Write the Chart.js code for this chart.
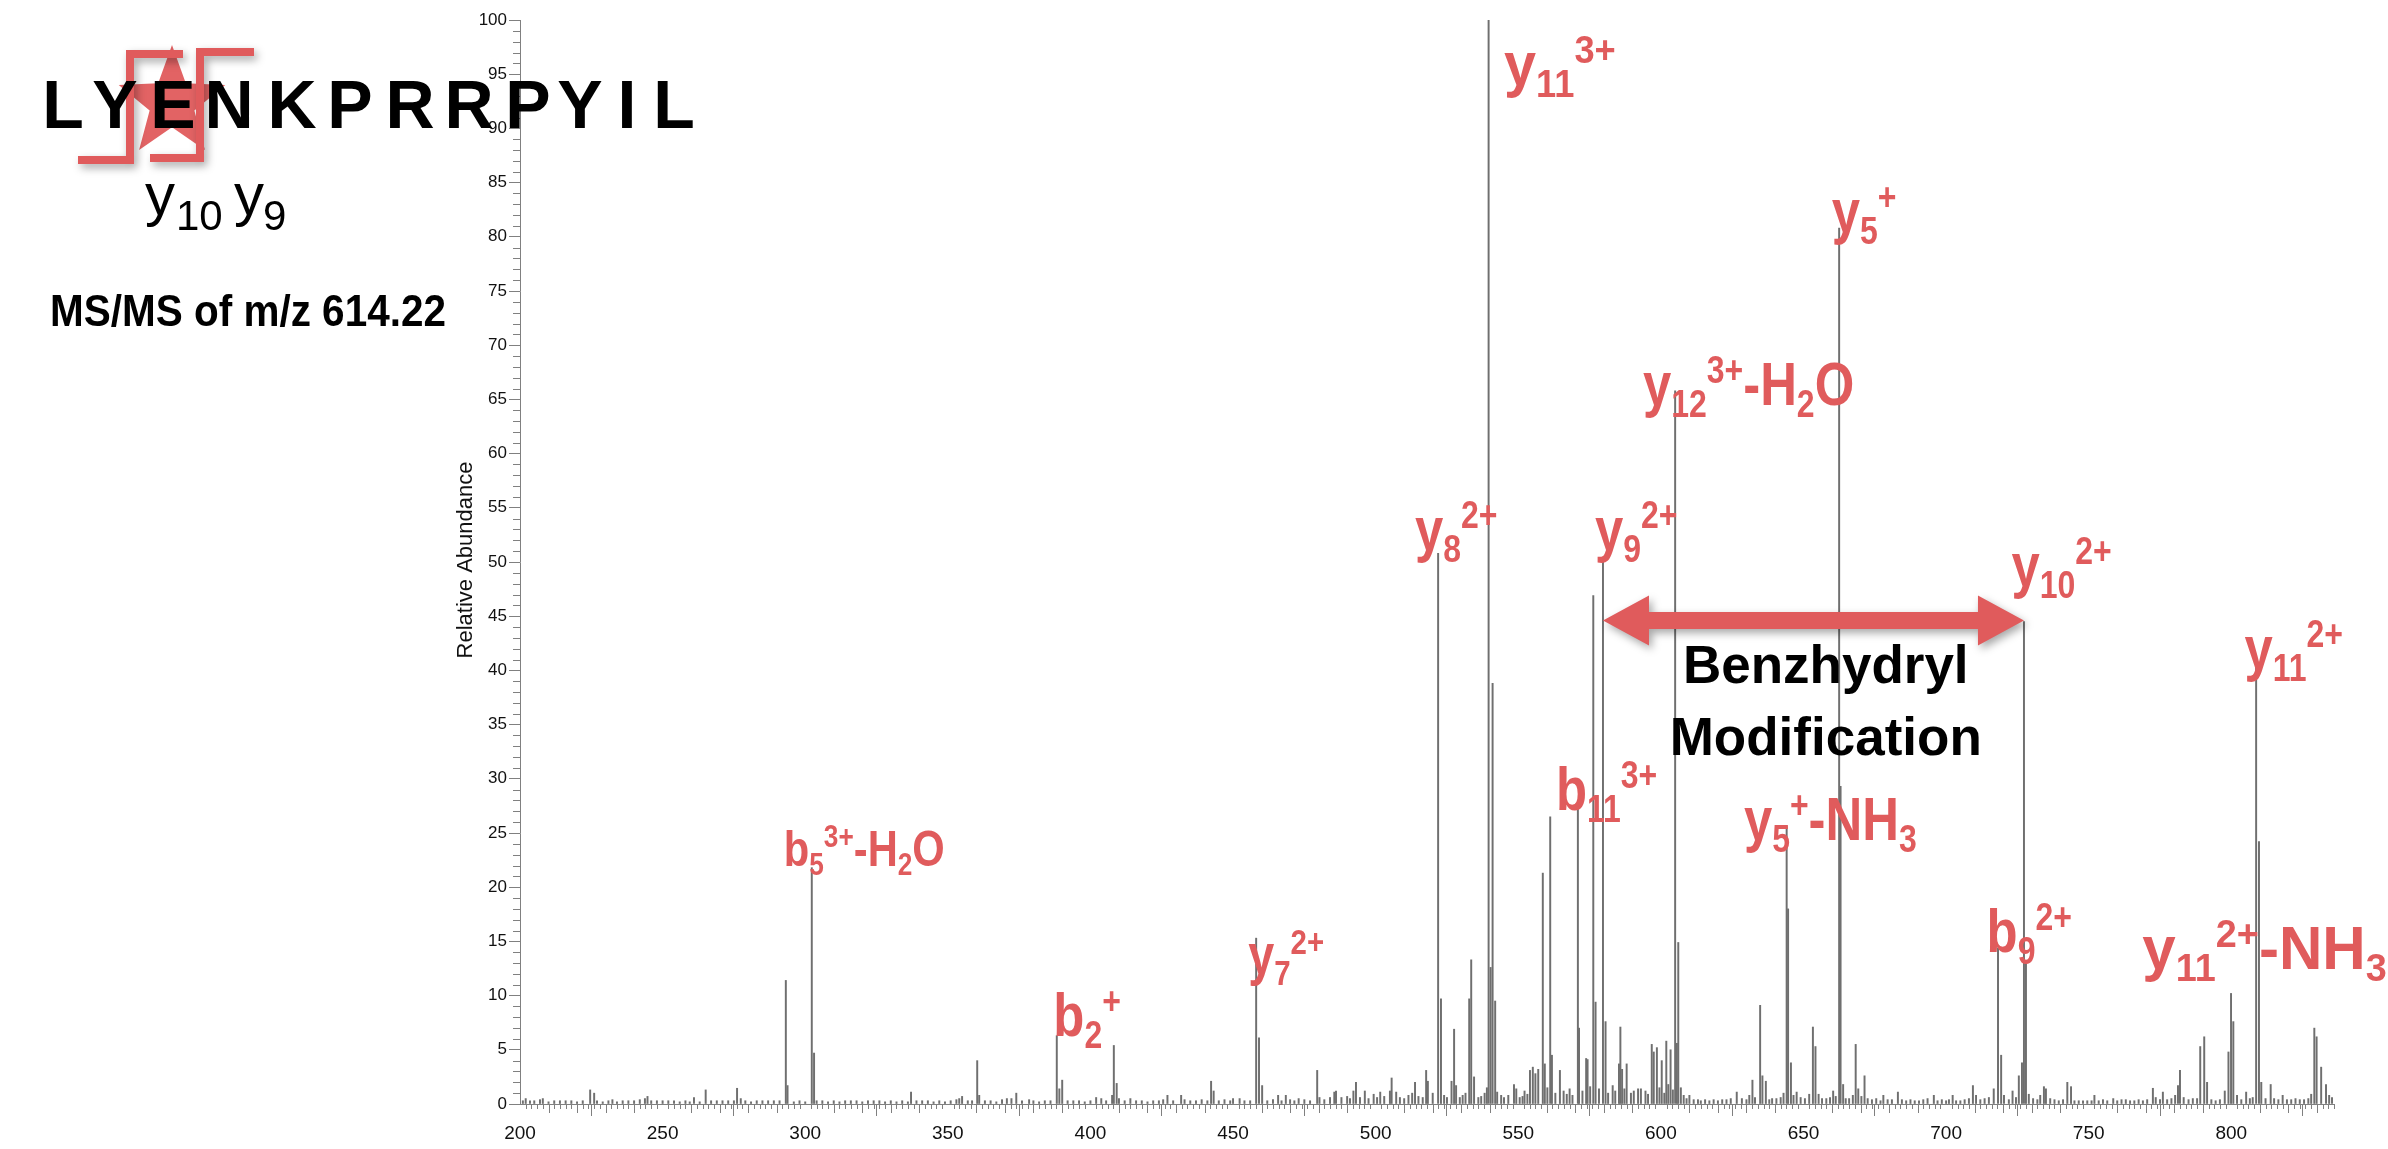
<!DOCTYPE html>
<html>
<head>
<meta charset="utf-8">
<script src="https://cdn.jsdelivr.net/npm/chart.js@4.4.1/dist/chart.umd.min.js"></script>
<style>
  html, body { margin: 0; padding: 0; background: #fff; }
  #wrap { width: 2388px; height: 1149px; position: relative; }
</style>
</head>
<body>
<div id="wrap"><canvas id="chart" width="2388" height="1149"></canvas></div>
<script>
// peak list (m/z, relative abundance)
const mzValues = [
  201, 202, 203.5, 205, 207, 208, 210, 212, 214, 216, 218, 220, 222, 224.6, 226, 227, 229, 231, 232.4, 234,
  236, 238, 240, 242, 243.8, 244.7, 246, 248, 250, 252, 254, 256, 258, 259.5, 261, 263, 265.1, 267, 269, 271,
  273, 275, 276.1, 277.4, 279, 281, 283, 285, 287, 289, 291, 293.2, 293.8, 296, 298, 300, 302.3, 303.1, 304, 306,
  308, 310, 312, 314, 316, 318, 320, 322, 324, 326, 328, 330, 332, 334, 336, 337.1, 339, 341, 343, 345,
  347, 349, 351, 353, 354, 355, 357, 358.5, 360.3, 361, 363, 365, 367, 369, 370.7, 372.3, 374, 376, 378.5, 380,
  382, 384, 386, 388.2, 389.1, 390.1, 392, 394, 396, 398, 400, 402, 403.8, 405.5, 407.6, 408.2, 409.2, 410, 412, 414,
  416, 418, 420, 422, 424, 425.5, 427, 429, 431.8, 433, 435, 437, 439, 441, 442.3, 443.2, 445, 447, 449, 450,
  452.3, 454, 456, 458.1, 459.1, 460.2, 462, 464, 465.8, 467, 468.5, 470, 471.5, 473, 475, 477, 479.5, 480.3, 482, 484,
  485.5, 486.1, 488, 490, 491, 492.2, 493.1, 494.5, 496.2, 497.5, 499.3, 500.5, 501.6, 503, 505, 505.6, 507.2, 508.5, 510, 511.5,
  512.8, 513.8, 515, 516.5, 517.7, 518.3, 520, 521.9, 522.9, 524, 525, 526.6, 527.5, 528.2, 529.5, 530.5, 531.5, 532.8, 533.5, 534.5,
  536, 537, 538.2, 539, 539.6, 540.3, 541, 541.9, 542.6, 544, 545, 546.5, 548.5, 549.3, 550.5, 551.5, 552.2, 553.2, 554.1, 555.1,
  556, 557, 558.6, 559.3, 560.2, 561.2, 561.8, 563, 564.6, 565.9, 567, 568, 569, 570.9, 571.3, 572.5, 573.8, 574.3, 575.2, 576.3,
  577.1, 578.3, 579.7, 580.6, 581.5, 583.1, 584, 585.3, 585.8, 586.4, 587.2, 588, 589.5, 590.5, 592, 593, 594.6, 595.5, 596.8, 597.5,
  598.6, 599.5, 600.3, 601.2, 601.9, 602.6, 603.4, 604.2, 605, 605.6, 606.1, 607, 608, 609, 610, 611.5, 613, 614, 615.5, 617,
  618.5, 620, 621.5, 623, 624.5, 626.6, 628.4, 630, 631, 632.1, 633, 634.8, 635.6, 636.8, 638, 639, 640.5, 642, 643, 644.1,
  644.6, 645.6, 646.5, 647.6, 649, 650.5, 652, 653.3, 654.2, 655.3, 656.5, 658, 659.3, 660.4, 661.3, 662.5, 663, 663.9, 664.8, 666,
  667.3, 668.3, 669.2, 670.3, 671.4, 672.5, 674, 675.5, 677, 678, 679.5, 681, 683.1, 684.5, 686, 687.5, 689, 690.5, 692, 693.5,
  695.7, 697, 698.5, 700, 701, 702.3, 703.5, 705, 706.5, 708, 709.4, 710.5, 712, 713.5, 715, 716.7, 718.2, 719.3, 720.3, 722,
  723.3, 724.5, 725.5, 726.6, 727.3, 728, 729, 730.5, 732, 733, 734.3, 735, 736.5, 738, 739.5, 741, 742.5, 743.8, 745, 746.5,
  748, 749.5, 751, 752, 753.5, 755, 756.5, 758.6, 760, 761.5, 763, 764.5, 766, 767.5, 769, 770.5, 772.5, 773.5, 775, 776,
  777.5, 779, 780.3, 781.3, 782, 783.3, 785, 786.5, 788, 789.1, 790.5, 791.5, 793, 794.5, 796, 797.7, 799, 799.9, 800.7, 802,
  803.5, 805.2, 806.5, 807.5, 808.7, 809.7, 810.5, 812, 813.8, 815, 816.5, 818, 819.5, 821, 822.5, 824, 825.5, 827, 828, 829.1,
  829.9, 831.5, 833.2, 834.3, 835.3
];
const abundance = [
  0.3, 0.5, 0.3, 0.3, 0.4, 0.5, 0.2, 0.3, 0.3, 0.3, 0.3, 0.2, 0.3, 1.3, 1.0, 0.3, 0.2, 0.3, 0.4, 0.2,
  0.3, 0.3, 0.3, 0.4, 0.5, 0.7, 0.3, 0.3, 0.3, 0.3, 0.3, 0.2, 0.3, 0.2, 0.6, 0.2, 1.3, 0.3, 0.3, 0.3,
  0.3, 0.3, 1.45, 0.5, 0.3, 0.2, 0.3, 0.3, 0.3, 0.3, 0.3, 11.4, 1.7, 0.2, 0.3, 0.2, 21.8, 4.7, 0.3, 0.3,
  0.2, 0.3, 0.2, 0.3, 0.3, 0.3, 0.2, 0.3, 0.3, 0.3, 0.2, 0.3, 0.2, 0.3, 0.2, 1.1, 0.3, 0.3, 0.3, 0.2,
  0.3, 0.2, 0.3, 0.4, 0.5, 0.7, 0.3, 0.3, 4.0, 0.8, 0.3, 0.3, 0.2, 0.4, 0.5, 0.5, 1.0, 0.3, 0.4, 0.3,
  0.2, 0.3, 0.3, 6.3, 1.4, 2.2, 0.3, 0.3, 0.3, 0.2, 0.3, 0.6, 0.5, 0.3, 0.8, 5.4, 1.9, 0.5, 0.3, 0.5,
  0.3, 0.3, 0.2, 0.3, 0.3, 0.4, 0.8, 0.3, 0.8, 0.4, 0.3, 0.3, 0.4, 0.3, 2.1, 1.2, 0.3, 0.4, 0.3, 0.5,
  0.5, 0.3, 0.3, 15.3, 6.1, 1.7, 0.3, 0.4, 0.8, 0.3, 0.8, 0.4, 0.3, 0.5, 0.4, 0.3, 3.1, 0.6, 0.4, 0.6,
  1.1, 1.2, 0.6, 0.7, 0.5, 1.2, 2.0, 0.6, 1.2, 0.5, 0.9, 0.6, 1.1, 0.7, 1.2, 2.4, 1.1, 0.6, 0.5, 0.8,
  1.0, 2.0, 0.7, 0.6, 3.1, 2.1, 1.0, 50.8, 9.7, 0.8, 0.6, 2.1, 6.9, 1.7, 0.6, 0.8, 1.0, 9.7, 13.3, 2.5,
  0.6, 0.7, 1.0, 1.5, 100, 12.6, 38.8, 9.5, 1.1, 0.8, 0.6, 0.8, 1.8, 1.4, 0.6, 0.7, 1.2, 0.9, 3.1, 3.4,
  2.8, 3.2, 21.3, 3.7, 1.5, 26.5, 4.5, 1.0, 3.1, 1.2, 0.9, 1.4, 0.8, 27.8, 7.0, 1.2, 4.2, 4.1, 1.6, 46.9,
  9.4, 1.4, 50.1, 7.6, 1.0, 1.7, 1.2, 3.7, 7.1, 3.2, 1.4, 3.7, 1.0, 1.2, 1.4, 1.4, 1.2, 0.9, 5.5, 4.8,
  5.2, 1.5, 4.0, 1.0, 5.8, 1.8, 5.0, 1.3, 65.8, 5.6, 14.9, 1.5, 0.8, 0.5, 0.8, 0.4, 0.4, 0.3, 0.4, 0.3,
  0.4, 0.3, 0.4, 0.4, 0.5, 1.1, 0.5, 0.4, 0.8, 2.2, 0.6, 9.1, 2.6, 2.1, 0.4, 0.5, 0.5, 0.6, 1.0, 25.6,
  18.0, 3.8, 0.8, 1.1, 0.6, 0.5, 0.9, 7.1, 5.3, 0.9, 0.5, 0.5, 0.6, 1.2, 0.7, 80.8, 29.3, 1.8, 0.5, 0.5,
  0.8, 5.5, 1.4, 0.7, 2.6, 0.5, 0.4, 0.5, 0.3, 0.8, 0.4, 0.4, 1.1, 0.4, 0.3, 0.4, 0.3, 0.3, 0.4, 0.5,
  0.8, 0.3, 0.4, 0.3, 0.4, 0.8, 0.3, 0.3, 0.4, 0.5, 1.7, 0.8, 0.4, 0.5, 0.6, 1.4, 14.4, 4.5, 0.8, 0.4,
  1.2, 0.6, 2.6, 3.8, 44.5, 13.0, 0.9, 0.5, 0.4, 0.8, 1.6, 1.4, 0.5, 0.4, 0.3, 0.4, 2.0, 1.6, 0.3, 0.3,
  0.3, 0.3, 0.3, 0.8, 0.3, 0.4, 0.3, 0.5, 0.3, 0.4, 0.4, 0.3, 0.3, 0.4, 0.3, 0.4, 1.45, 0.6, 0.4, 1.1,
  0.4, 0.5, 0.8, 1.7, 3.1, 0.6, 0.4, 0.5, 0.5, 5.3, 6.2, 2.0, 0.4, 0.3, 0.4, 1.2, 4.8, 10.2, 7.6, 0.8,
  0.4, 1.1, 0.5, 0.6, 40.5, 24.2, 2.0, 0.5, 1.8, 0.5, 0.4, 0.8, 0.4, 0.4, 0.5, 0.4, 0.4, 0.5, 0.9, 7.0,
  6.2, 3.4, 1.8, 0.8, 0.6
];

const xTickLabels = [200, 250, 300, 350, 400, 450, 500, 550, 600, 650, 700, 750, 800];
const yTickLabels = [0, 5, 10, 15, 20, 25, 30, 35, 40, 45, 50, 55, 60, 65, 70, 75, 80, 85, 90, 95, 100];

// ion annotations: text parts ("n" normal, "b" subscript, "p" superscript), anchored in data units
const ionParts = [
  [["b", "n"], ["5", "b"], ["3+", "p"], ["-H", "n"], ["2", "b"], ["O", "n"]],
  [["b", "n"], ["2", "b"], ["+", "p"]],
  [["y", "n"], ["7", "b"], ["2+", "p"]],
  [["y", "n"], ["8", "b"], ["2+", "p"]],
  [["y", "n"], ["11", "b"], ["3+", "p"]],
  [["y", "n"], ["9", "b"], ["2+", "p"]],
  [["b", "n"], ["11", "b"], ["3+", "p"]],
  [["y", "n"], ["12", "b"], ["3+", "p"], ["-H", "n"], ["2", "b"], ["O", "n"]],
  [["y", "n"], ["5", "b"], ["+", "p"]],
  [["y", "n"], ["5", "b"], ["+", "p"], ["-NH", "n"], ["3", "b"]],
  [["y", "n"], ["10", "b"], ["2+", "p"]],
  [["b", "n"], ["9", "b"], ["2+", "p"]],
  [["y", "n"], ["11", "b"], ["2+", "p"]],
  [["y", "n"], ["11", "b"], ["2+", "p"], ["-NH", "n"], ["3", "b"]]
];
const ionMz = [292.5, 387.0, 455.3, 513.8, 545.0, 576.9, 563.2, 593.7, 659.9, 629.1, 722.9, 714.2, 804.6, 768.8];
const ionLevel = [22.0, 6.3, 12.0, 51.1, 94.0, 51.1, 27.1, 64.5, 80.4, 24.4, 47.8, 14.0, 40.1, 12.5];
// per-label text size factor and horizontal squeeze (style only)
const ionSize = [0.82, 1, 0.92, 1, 1, 1, 1, 1, 1, 1, 1, 1, 1, 1];
const ionSqueeze = [0.82, 0.82, 0.82, 0.82, 0.93, 0.82, 0.82, 0.82, 0.82, 0.82, 0.82, 0.82, 0.82, 0.97];

const sequence = ["L", "Y", "E", "N", "K", "P", "R", "R", "P", "Y", "I", "L"];
const seqCenters = [63, 115, 173, 229, 292, 350, 410, 469, 528, 580, 627, 674];

const RED = "#e05b5c";
const FONT = '"Liberation Sans", Arial, sans-serif';

function drawIon(ctx, parts, x, y, k, sx) {
  ctx.save();
  ctx.translate(x, y);
  ctx.scale(sx, 1);
  ctx.fillStyle = RED;
  ctx.textBaseline = "alphabetic";
  let cx = 0;
  for (const [t, kind] of parts) {
    const size = (kind === "n" ? 62 : 39) * k;
    ctx.font = `bold ${size}px ${FONT}`;
    const dy = (kind === "b" ? 12 : kind === "p" ? -22 : 0) * k;
    ctx.fillText(t, cx, dy);
    cx += ctx.measureText(t).width;
  }
  ctx.restore();
}

function drawArrow(ctx, x1, x2, y) {
  const half = 8.5, headL = 46, headH = 25;
  ctx.save();
  ctx.shadowColor = "rgba(0,0,0,0.35)";
  ctx.shadowBlur = 8;
  ctx.shadowOffsetX = 3;
  ctx.shadowOffsetY = 4;
  ctx.fillStyle = RED;
  ctx.beginPath();
  ctx.moveTo(x1, y);
  ctx.lineTo(x1 + headL, y - headH);
  ctx.lineTo(x1 + headL, y - half);
  ctx.lineTo(x2 - headL, y - half);
  ctx.lineTo(x2 - headL, y - headH);
  ctx.lineTo(x2, y);
  ctx.lineTo(x2 - headL, y + headH);
  ctx.lineTo(x2 - headL, y + half);
  ctx.lineTo(x1 + headL, y + half);
  ctx.lineTo(x1 + headL, y + headH);
  ctx.closePath();
  ctx.fill();
  ctx.restore();
}

function drawStar(ctx, cx, cy, rx, ry) {
  ctx.beginPath();
  for (let i = 0; i < 10; i++) {
    const r = i % 2 === 0 ? 1 : 0.42;
    const a = -Math.PI / 2 + i * Math.PI / 5;
    ctx.lineTo(cx + Math.cos(a) * rx * r, cy + Math.sin(a) * ry * r);
  }
  ctx.closePath();
  ctx.fill();
}

const extras = {
  id: "extras",
  afterDraw(chart) {
    const ctx = chart.ctx;
    const xs = chart.scales.x, ys = chart.scales.y;
    const y0 = ys.getPixelForValue(0), xl = xs.getPixelForValue(200);

    // minor tick marks
    ctx.save();
    ctx.strokeStyle = "#808080";
    ctx.lineWidth = 1;
    for (let v = 202; v <= 836; v += 2) {
      if (v % 50 === 0) continue;
      const px = Math.round(xs.getPixelForValue(v)) + 0.5;
      const len = v % 10 === 0 ? 9 : 5;
      ctx.beginPath();
      ctx.moveTo(px, y0);
      ctx.lineTo(px, y0 + len);
      ctx.stroke();
    }
    for (let v = 1; v < 100; v++) {
      if (v % 5 === 0) continue;
      const py = Math.round(ys.getPixelForValue(v)) + 0.5;
      ctx.beginPath();
      ctx.moveTo(xl - 7, py);
      ctx.lineTo(xl, py);
      ctx.stroke();
    }
    ctx.restore();

    // y axis title
    ctx.save();
    ctx.translate(466, 560);
    ctx.rotate(-Math.PI / 2);
    ctx.font = `22px ${FONT}`;
    ctx.fillStyle = "#111";
    ctx.textAlign = "center";
    ctx.textBaseline = "middle";
    ctx.fillText("Relative Abundance", 0, 0);
    ctx.restore();

    // ion labels
    ionParts.forEach((parts, i) => {
      drawIon(ctx, parts, xs.getPixelForValue(ionMz[i]), ys.getPixelForValue(ionLevel[i]), ionSize[i], ionSqueeze[i]);
    });

    // benzhydryl shift between y9 2+ and y10 2+
    drawArrow(ctx, xs.getPixelForValue(579.7), xs.getPixelForValue(727.3), ys.getPixelForValue(44.6));
    ctx.save();
    ctx.fillStyle = "#000";
    ctx.font = `bold 53px ${FONT}`;
    ctx.textAlign = "center";
    ctx.fillText("Benzhydryl", xs.getPixelForValue(657.8), ys.getPixelForValue(38.8));
    ctx.fillText("Modification", xs.getPixelForValue(657.8), ys.getPixelForValue(32.2));
    ctx.restore();

    // sequence with cleavage marks
    ctx.save();
    ctx.fillStyle = RED;
    ctx.globalAlpha = 0.95;
    drawStar(ctx, 172, 103, 56, 58);
    ctx.globalAlpha = 1;
    ctx.shadowColor = "rgba(0,0,0,0.35)";
    ctx.shadowBlur = 8;
    ctx.shadowOffsetX = 3;
    ctx.shadowOffsetY = 4;
    ctx.strokeStyle = RED;
    ctx.lineWidth = 8;
    ctx.lineJoin = "miter";
    ctx.beginPath();
    ctx.moveTo(183, 54); ctx.lineTo(130, 54); ctx.lineTo(130, 160); ctx.lineTo(78, 160);
    ctx.stroke();
    ctx.beginPath();
    ctx.moveTo(254, 52); ctx.lineTo(200, 52); ctx.lineTo(200, 158); ctx.lineTo(150, 158);
    ctx.stroke();
    ctx.restore();

    ctx.save();
    ctx.fillStyle = "#000";
    ctx.font = `bold 68px ${FONT}`;
    ctx.textAlign = "center";
    ctx.textBaseline = "alphabetic";
    sequence.forEach((s, i) => ctx.fillText(s, seqCenters[i], 128));

    ctx.textAlign = "left";
    ctx.font = `60px ${FONT}`;
    ctx.fillText("y", 145, 215);
    ctx.fillText("y", 234, 215);
    ctx.font = `42px ${FONT}`;
    ctx.fillText("10", 176, 230);
    ctx.fillText("9", 263, 230);

    ctx.font = `bold 44px ${FONT}`;
    ctx.save();
    ctx.translate(50, 326);
    ctx.scale(0.92, 1);
    ctx.fillText("MS/MS of m/z 614.22", 0, 0);
    ctx.restore();
    ctx.restore();
  }
};

Chart.defaults.font.family = FONT;
Chart.defaults.color = "#111";

new Chart(document.getElementById("chart").getContext("2d"), {
  type: "bar",
  data: {
    datasets: [{
      data: mzValues.map((m, i) => ({ x: m, y: abundance[i] })),
      backgroundColor: "#6f6f6f",
      borderWidth: 0,
      barThickness: 1.3,
      grouped: false
    }]
  },
  options: {
    responsive: false,
    animation: false,
    layout: { padding: { left: 0, right: 54, top: 20, bottom: 0 } },
    plugins: { legend: { display: false }, tooltip: { enabled: false } },
    scales: {
      x: {
        type: "linear",
        min: 200,
        max: 836,
        offset: false,
        afterBuildTicks: (s) => { s.ticks = xTickLabels.map((v) => ({ value: v })); },
        afterFit: (s) => { s.height = 45; },
        ticks: { font: { size: 19 }, padding: 6, maxRotation: 0, autoSkip: false, color: "#111" },
        grid: { drawOnChartArea: false, drawTicks: true, tickLength: 12, tickColor: "#808080" },
        border: { display: true, color: "#808080", width: 1 }
      },
      y: {
        min: 0,
        max: 100,
        afterBuildTicks: (s) => { s.ticks = yTickLabels.map((v) => ({ value: v })); },
        afterFit: (s) => { s.width = 520; },
        ticks: { font: { size: 17 }, padding: 2, autoSkip: false, color: "#111" },
        grid: { drawOnChartArea: false, drawTicks: true, tickLength: 11, tickColor: "#808080" },
        border: { display: true, color: "#808080", width: 1 }
      }
    }
  },
  plugins: [extras]
});
</script>
</body>
</html>
